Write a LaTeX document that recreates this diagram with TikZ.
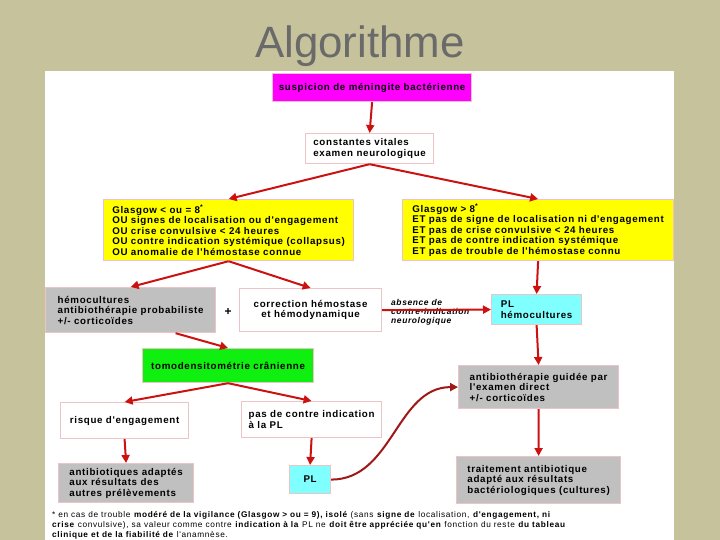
\documentclass[tikz,border=0pt]{standalone}
\usepackage{fontspec}
\setmainfont{Liberation Sans}
\newfontfamily\boxfont[LetterSpace=7]{Liberation Sans}
\newfontfamily\notefont[LetterSpace=8]{Liberation Sans}
\usetikzlibrary{arrows.meta}

\begin{document}
\begin{tikzpicture}[x=1bp,y=-1bp]
  % Slide with a white sheet; boxes are placed by their top left corner,
  % measured in pixels of the 720x540 slide.
  \definecolor{olive}{HTML}{C6C29B}
  \definecolor{titlegray}{HTML}{6A6A6A}
  \definecolor{rim}{HTML}{EDC3C8}
  \definecolor{pinkbox}{HTML}{FF00FF}
  \definecolor{yellowbox}{HTML}{FFFF00}
  \definecolor{greenbox}{HTML}{10F010}
  \definecolor{cyanbox}{HTML}{80FFFF}
  \definecolor{greybox}{HTML}{C0C0C0}
  \definecolor{flow}{HTML}{CC1111}
  \definecolor{darkflow}{HTML}{A01818}
  \useasboundingbox (0,0) rectangle (720,540);
  \fill[olive] (0,0) rectangle (720,540);
  \fill[white] (45,71) rectangle (674,540);

  \tikzset{stage/.style={draw=rim,line width=1.2bp,anchor=north west,align=left,inner sep=3bp,
                         font=\boxfont\bfseries\fontsize{9.8}{10.6}\selectfont},
           link/.style={draw=flow,line width=2bp,-{Triangle[length=8bp,width=8bp]}}}

  \node[font=\fontsize{44}{50}\selectfont,text=titlegray] (title) at (360,46) {Algorithme};

  \node[stage,fill=pinkbox,minimum width=199bp,minimum height=28bp] (susp) at (272,73) {suspicion de méningite bactérienne};
  \node[stage,fill=white,minimum width=128bp,minimum height=30bp] (vital) at (305,133) {constantes vitales\\examen neurologique};

  \node[stage,fill=yellowbox,minimum width=250bp,minimum height=61bp] (severe) at (103,199)
    {Glasgow < ou = 8\textsuperscript{*}\\OU signes de localisation ou d'engagement\\OU crise convulsive < 24 heures\\OU contre indication systémique (collapsus)\\OU anomalie de l'hémostase connue};
  \node[stage,fill=yellowbox,minimum width=271bp,minimum height=61bp] (mild) at (402,199)
    {Glasgow > 8\textsuperscript{*}\\ET pas de signe de localisation ni d'engagement\\ET pas de crise convulsive < 24 heures\\ET pas de contre indication systémique\\ET pas de trouble de l'hémostase connu};

  \node[stage,fill=greybox,minimum width=170bp,minimum height=45bp] (cultures) at (45,287) {hémocultures\\antibiothérapie probabiliste\\+/- corticoïdes};
  \node[font=\boxfont\bfseries\fontsize{12}{12}\selectfont] (plus) at (228,312) {+};
  \node[stage,fill=white,align=center,minimum width=142bp,minimum height=43bp] (repair) at (239,288) {correction hémostase\\ et hémodynamique};
  \node[anchor=north west,align=left,inner sep=0pt,font=\boxfont\bfseries\itshape\fontsize{8.5}{9.3}\selectfont] (absence) at (391,299) {absence de\\contre-indication\\neurologique};
  \node[stage,fill=cyanbox,minimum width=90bp,minimum height=30bp] (lp) at (491,294) {PL\\hémocultures};

  \node[stage,fill=greenbox,minimum width=171bp,minimum height=34bp] (scan) at (142,348) {tomodensitométrie crânienne};
  \node[stage,fill=greybox,minimum width=160bp,minimum height=43bp] (guided) at (458,365) {antibiothérapie guidée par\\l'examen direct\\+/- corticoïdes};
  \node[stage,fill=white,minimum width=128bp,minimum height=36bp] (risk) at (60,402) {risque d'engagement};
  \node[stage,fill=white,minimum width=140bp,minimum height=36bp] (safe) at (241,401) {pas de contre indication\\à la PL};
  \node[stage,fill=greybox,minimum width=135bp,minimum height=39bp] (adapted) at (58,463) {antibiotiques adaptés\\aux résultats des\\autres prélèvements};
  \node[stage,fill=cyanbox,minimum width=41bp,minimum height=28bp] (lp2) at (289,465) {PL};
  \node[stage,fill=greybox,minimum width=164bp,minimum height=47bp] (final) at (456,456) {traitement antibiotique\\adapté aux résultats\\bactériologiques (cultures)};

  \node[anchor=north west,align=left,inner sep=0pt,font=\notefont\fontsize{8.3}{10}\selectfont] (footnote) at (52,511)
    {* en cas de trouble \textbf{modéré de la vigilance (Glasgow > ou = 9), isolé} (sans \textbf{signe de} localisation, \textbf{d'engagement, ni}\\
     \textbf{crise} convulsive), sa valeur comme contre \textbf{indication à la} PL ne \textbf{doit être appréciée qu'en} fonction du reste \textbf{du tableau}\\
     \textbf{clinique et de la fiabilité de} l'anamnèse.};

  \draw[link] (susp.south) -- (vital.north);
  \draw[link] (vital.south) -- (severe.north);
  \draw[link] (vital.south) -- (mild.north);
  \draw[link] (severe.south) -- (cultures.north);
  \draw[link] (severe.south) -- (repair.north);
  \draw[link] (mild.south) -- (lp.north);
  \draw[link] (repair.east) -- (lp.west);
  \draw[link] ([xshift=45bp]cultures.south) -- (scan.north);
  \draw[link] (scan.south) -- (risk.north);
  \draw[link] (scan.south) -- (safe.north);
  \draw[link] (risk.south) -- (adapted.north);
  \draw[link] (safe.south) -- (lp2.north);
  \draw[link] (lp.south) -- (guided.north);
  \draw[link] (guided.south) -- (final.north);
  \draw[link,draw=darkflow] (lp2.east) to[out=0,in=180] (guided.west);
\end{tikzpicture}
\end{document}
